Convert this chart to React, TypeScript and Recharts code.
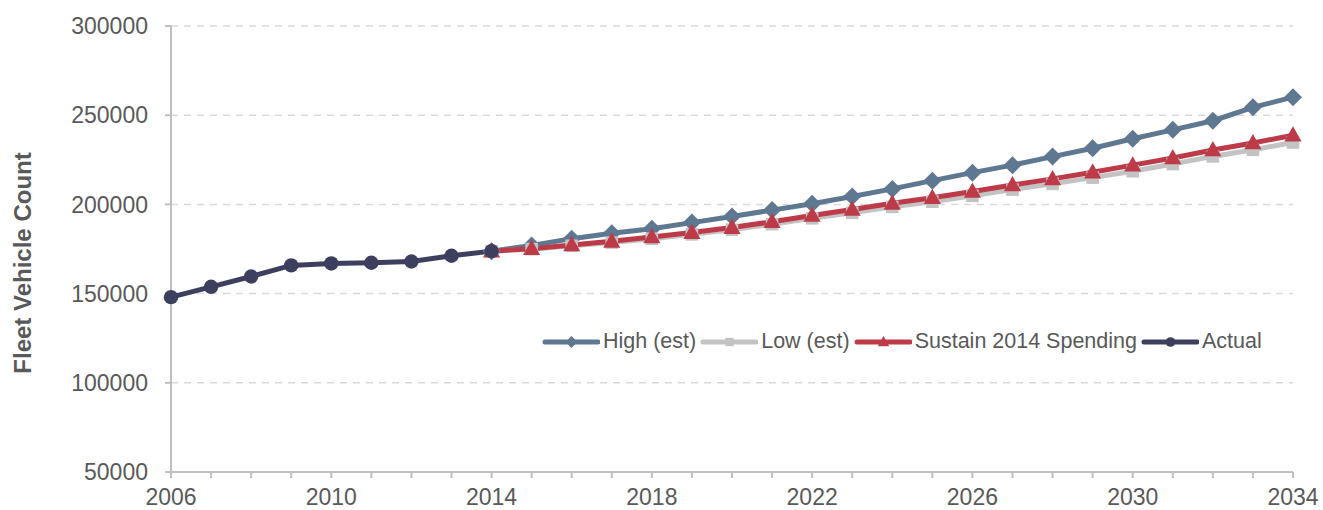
import { CartesianGrid, Legend, Line, LineChart, XAxis, YAxis } from "recharts";

const years = [
  2006, 2007, 2008, 2009, 2010, 2011, 2012, 2013, 2014, 2015, 2016, 2017, 2018, 2019, 2020,
  2021, 2022, 2023, 2024, 2025, 2026, 2027, 2028, 2029, 2030, 2031, 2032, 2033, 2034,
];

// 2006-2014
const actual = [148000, 153800, 159600, 165800, 166900, 167300, 168000, 171200, 173800];

// 2014-2034
const high = [
  173800, 177000, 180800, 183800, 186300, 189800, 193200, 196800, 200400, 204400, 208700,
  213300, 217800, 222000, 226800, 231500, 236800, 241800, 246900, 254400, 260100,
];
const low = [
  173800, 174900, 176800, 178600, 180800, 183200, 185800, 188900, 192200, 195300, 198600,
  201500, 204800, 208300, 211500, 215000, 218600, 222600, 226900, 230600, 234700,
];
const sustain = [
  173800, 175200, 177300, 179300, 181700, 184200, 187000, 190300, 193800, 197100, 200600,
  203700, 207200, 210900, 214300, 218000, 222000, 226000, 230500, 234400, 238800,
];

const yTicks = [50000, 100000, 150000, 200000, 250000, 300000];

const FONT = '"Liberation Sans", Arial, sans-serif';
const TEXT = "#595959";
const AXIS = "#bfbfbf";

const data = years.map((year, i) => {
  const p = i - 8;
  return {
    year,
    actual: i < actual.length ? actual[i] : null,
    high: p >= 0 ? high[p] : null,
    low: p >= 0 ? low[p] : null,
    sustain: p >= 0 ? sustain[p] : null,
  };
});

type Shape = "diamond" | "square" | "triangle" | "circle";

const series: { key: string; name: string; color: string; shape: Shape }[] = [
  { key: "high", name: "High (est)", color: "#5f7891", shape: "diamond" },
  { key: "low", name: "Low (est)", color: "#c3c3c3", shape: "square" },
  { key: "sustain", name: "Sustain 2014 Spending", color: "#bd3a48", shape: "triangle" },
  { key: "actual", name: "Actual", color: "#3d3f5f", shape: "circle" },
];

function marker(shape: Shape, cx: number, cy: number, s: number, color: string, key?: any) {
  if (shape === "diamond")
    return <path key={key} d={`M${cx},${cy - s}L${cx + s},${cy}L${cx},${cy + s}L${cx - s},${cy}Z`} fill={color} />;
  if (shape === "square")
    return <rect key={key} x={cx - s * 0.7} y={cy - s * 0.7} width={s * 1.4} height={s * 1.4} fill={color} />;
  if (shape === "triangle")
    return <path key={key} d={`M${cx},${cy - s}L${cx + s * 0.95},${cy + s * 0.7}L${cx - s * 0.95},${cy + s * 0.7}Z`} fill={color} />;
  return <circle key={key} cx={cx} cy={cy} r={s * 0.8} fill={color} />;
}

function makeDot(shape: Shape, color: string) {
  return (props: any) => {
    const { cx, cy, index } = props;
    if (cx == null || cy == null || props.value == null) return <g key={index} />;
    return marker(shape, cx, cy, 9, color, index);
  };
}

function XTick({ x, y, payload }: any) {
  if ((payload.value - 2006) % 4 !== 0) return <g />;
  return (
    <text x={x} y={y} dy="0.71em" textAnchor="middle" fill={TEXT} fontSize={23} fontFamily={FONT}>
      {payload.value}
    </text>
  );
}

function LegendBox() {
  return (
    <div style={{ display: "flex", alignItems: "center", fontFamily: FONT, fontSize: 21.5, color: TEXT, whiteSpace: "nowrap" }}>
      {series.map((s) => (
        <div key={s.key} style={{ display: "flex", alignItems: "center", marginRight: 4 }}>
          <svg width={58} height={16} style={{ marginRight: 3 }}>
            <line x1={3} y1={8} x2={56} y2={8} stroke={s.color} strokeWidth={5} strokeLinecap="round" />
            {marker(s.shape, 29.5, 8, 6, s.color)}
          </svg>
          <span>{s.name}</span>
        </div>
      ))}
    </div>
  );
}

function AxisTitle() {
  return (
    <text
      x={22}
      y={263}
      transform="rotate(-90 22 263)"
      textAnchor="middle"
      dominantBaseline="central"
      fill={TEXT}
      fontSize={24}
      fontWeight="bold"
      fontFamily={FONT}
    >
      Fleet Vehicle Count
    </text>
  );
}

export default function App() {
  return (
    <div style={{ width: 1323, height: 510, background: "#fff" }}>
      <style>{"body{margin:0}"}</style>
      <LineChart width={1323} height={510} data={data} margin={{ top: 26, right: 30, bottom: 0, left: 0 }}>
        <CartesianGrid vertical={false} stroke="#d9d9d9" strokeWidth={1.5} strokeDasharray="7 6" />
        <XAxis
          dataKey="year"
          type="number"
          domain={[2006, 2034]}
          ticks={years}
          interval={0}
          height={38}
          stroke={AXIS}
          strokeWidth={2}
          tickSize={6}
          tickMargin={11}
          tick={<XTick />}
        />
        <YAxis
          domain={[50000, 300000]}
          ticks={yTicks}
          width={171}
          stroke={AXIS}
          strokeWidth={2}
          tickSize={6}
          tickMargin={17}
          tick={{ fill: TEXT, fontSize: 23, fontFamily: FONT }}
          label={<AxisTitle />}
        />
        <Legend
          layout="vertical"
          align="center"
          verticalAlign="middle"
          content={() => <LegendBox />}
          wrapperStyle={{ left: 542, top: 329, width: "auto", bottom: "auto" }}
        />
        {series.map((s) => (
          <Line
            key={s.key}
            dataKey={s.key}
            name={s.name}
            stroke={s.color}
            strokeWidth={5}
            dot={makeDot(s.shape, s.color)}
            activeDot={false}
            isAnimationActive={false}
          />
        ))}
      </LineChart>
    </div>
  );
}
